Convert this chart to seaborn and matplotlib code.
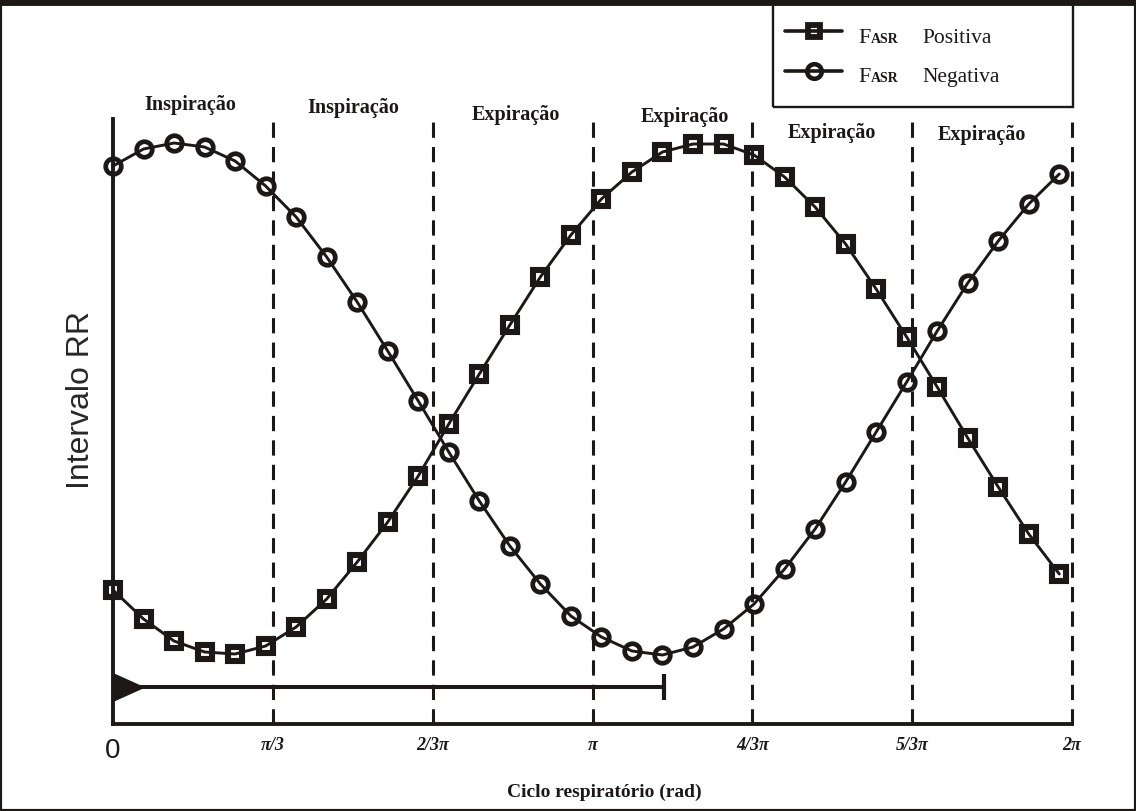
import numpy as np
import pandas as pd
import matplotlib
matplotlib.use("Agg")
import matplotlib.pyplot as plt
from matplotlib.lines import Line2D
from matplotlib.patches import Rectangle
from matplotlib.path import Path
from matplotlib.font_manager import FontProperties
import seaborn as sns

# Respiratory phase (rad) of each RR sample
phase = [0.0, 0.2, 0.4, 0.6, 0.8, 1.0, 1.2, 1.4, 1.6, 1.8, 2.0, 2.2, 2.4, 2.6,
         2.8, 3.0, 3.2, 3.4, 3.6, 3.8, 4.0, 4.2, 4.4, 4.6, 4.8, 5.0, 5.2, 5.4,
         5.6, 5.8, 6.0, 6.2]

# RR interval (arbitrary units) for positive and negative RSA phase
rr_positiva = [1.34, 1.05, 0.83, 0.72, 0.70, 0.78, 0.97, 1.25, 1.62, 2.02,
               2.48, 3.00, 3.50, 3.99, 4.47, 4.89, 5.25, 5.52, 5.72, 5.80,
               5.80, 5.69, 5.47, 5.17, 4.80, 4.35, 3.87, 3.37, 2.86, 2.37,
               1.90, 1.50]
rr_negativa = [5.58, 5.75, 5.81, 5.77, 5.63, 5.38, 5.07, 4.67, 4.22, 3.73,
               3.23, 2.72, 2.23, 1.78, 1.40, 1.08, 0.87, 0.73, 0.69, 0.77,
               0.95, 1.20, 1.55, 1.95, 2.42, 2.92, 3.42, 3.93, 4.41, 4.83,
               5.20, 5.50]

# Phase boundaries and their labels
tick_pos = [0, np.pi / 3, 2 * np.pi / 3, np.pi, 4 * np.pi / 3, 5 * np.pi / 3, 2 * np.pi]
tick_labels = ["0", "π/3", "2/3π", "π", "4/3π", "5/3π", "2π"]

# Breathing stage in each sixth of the cycle
stages = ["Inspiração", "Inspiração", "Expiração", "Expiração", "Expiração", "Expiração"]

# Horizontal reference bar under the curves
bar_level = 0.37
bar_end = 3.61

# ---------------------------------------------------------------------------
sns.set_style("white")
plt.rcParams["font.family"] = ["Liberation Serif", "DejaVu Serif"]

W, H = 1136, 812
INK = "#1c1818"

fig = plt.figure(figsize=(W / 100, H / 100), dpi=100)
ax = fig.add_axes([113 / W, 1 - 725 / H, (1072 - 113) / W, (725 - 120) / H])

df = pd.DataFrame({"fase": phase, "positiva": rr_positiva, "negativa": rr_negativa})

# phase boundaries
for t in tick_pos[1:]:
    ax.axvline(t, color=INK, lw=2.2, dashes=(5.0, 3.0), clip_on=False, zorder=1)

# reference bar with arrow head and end cap
ax.plot([0, bar_end], [bar_level, bar_level], color=INK, lw=2.9,
        solid_capstyle="butt", zorder=2)
arrow_head = Path([(0, -0.45), (1, 0), (0, 0.45), (0, -0.45)],
                  [Path.MOVETO, Path.LINETO, Path.LINETO, Path.CLOSEPOLY])
ax.plot([0], [bar_level], marker=arrow_head, ms=46, color=INK, mew=0,
        clip_on=False, zorder=3)
ax.plot([bar_end], [bar_level], marker="|", ms=19, mew=3, color=INK, zorder=3)

# the two RSA curves
sns.lineplot(data=df, x="fase", y="positiva", ax=ax, color=INK, lw=2.1,
             marker="s", ms=9.6, mew=4.4, mec=INK, mfc="none",
             estimator=None, legend=False, zorder=4, clip_on=False)
sns.lineplot(data=df, x="fase", y="negativa", ax=ax, color=INK, lw=2.1,
             marker="o", ms=11.2, mew=3.4, mec=INK, mfc="none",
             estimator=None, legend=False, zorder=4, clip_on=False)

ax.set_xlim(0, 2 * np.pi)
ax.set_ylim(0, 6.05)
ax.set_xlabel("")
ax.set_ylabel("")
ax.set_yticks([])
sns.despine(ax=ax)
for side in ("left", "bottom"):
    ax.spines[side].set_linewidth(2.8)
    ax.spines[side].set_color(INK)

ax.set_xticks(tick_pos)
ax.set_xticklabels(tick_labels)
ax.tick_params(axis="x", direction="in", length=12, width=2.2, color=INK, pad=9)
sans_big = FontProperties(family="Liberation Sans", size=20)
serif_bi = FontProperties(family="Liberation Serif", size=13, weight="bold", style="italic")
for i, lbl in enumerate(ax.get_xticklabels()):
    lbl.set_fontproperties(sans_big if i == 0 else serif_bi)
    lbl.set_color(INK)

# stage names above each interval
stage_y = [6.20, 6.17, 6.10, 6.08, 5.92, 5.90]
stage_dx = [-0.02, 0.0, 0.02, 0.08, 0.0, -0.07]
for k, (name, yy, dx) in enumerate(zip(stages, stage_y, stage_dx)):
    xc = (tick_pos[k] + tick_pos[k + 1]) / 2 + dx
    ax.text(xc, yy, name, ha="center", va="center", fontsize=14.5,
            fontweight="bold", color=INK, clip_on=False)

# axis titles
fig.text(81 / W, 1 - 400 / H, "Intervalo RR", rotation=90, ha="center",
         va="center", fontsize=23, family="Liberation Sans", color="#2a2626")
fig.text(604 / W, 1 - 792 / H, "Ciclo respiratório (rad)", ha="center",
         va="center", fontsize=14, fontweight="bold", color=INK)

# legend box
fig.add_artist(Rectangle((773 / W, 1 - 108 / H), 300 / W, 120 / H,
                         transform=fig.transFigure, fill=False, lw=1.7,
                         ec=INK, zorder=5))
entries = [("s", 9.0, 4.2, "Positiva", 32, 43),
           ("o", 10.5, 3.3, "Negativa", 72, 82)]
for mk, ms, mew, name, ypx, base in entries:
    yy = 1 - ypx / H
    fig.add_artist(Line2D([785 / W, 813.5 / W, 842 / W], [yy, yy, yy],
                          transform=fig.transFigure, color=INK, lw=2.6,
                          marker=mk, markevery=[1], ms=ms, mew=mew,
                          mec=INK, mfc="none"))
    yb = 1 - base / H
    fig.text(858 / W, yb, "F", fontsize=16, va="baseline", color=INK)
    fig.text(871 / W, yb, "ASR", fontsize=10, fontweight="bold",
             va="baseline", color=INK)
    fig.text(922 / W, yb, name, fontsize=15.5, va="baseline", color=INK)

# frame around the figure
fig.add_artist(Rectangle((0, 0), 1, 1, transform=fig.transFigure, fill=False,
                         lw=3, ec=INK, zorder=6))
fig.add_artist(Line2D([0, 1], [1, 1], transform=fig.transFigure, lw=10,
                      color=INK, zorder=6))

fig.savefig("out.png", dpi=100)
